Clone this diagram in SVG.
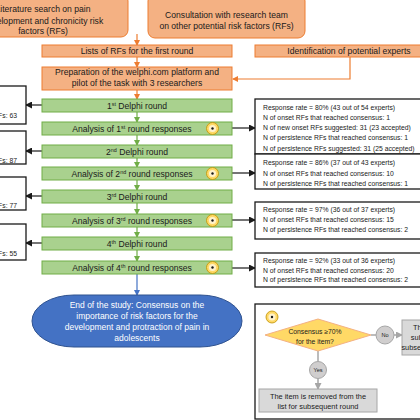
<svg xmlns="http://www.w3.org/2000/svg" width="420" height="420" viewBox="0 0 420 420">
<style>
text{font-family:"Liberation Sans",Arial,sans-serif;fill:#1a1a1a}
.m{font-size:8.6px;text-anchor:middle}
.s{font-size:6.8px}
.sup{font-size:5.4px}
.or{fill:#F4B183;stroke:#ED7D31;stroke-width:1}
.gr{fill:#A9D18E;stroke:#70AD47;stroke-width:1}
.bx{fill:#fff;stroke:#1a1a1a;stroke-width:1.3}
.gy{fill:#D9D9D9;stroke:#A6A6A6;stroke-width:1}
.gc{fill:#D0CECE;stroke:#A6A6A6;stroke-width:1}
.w{fill:#fff;font-size:8.5px;text-anchor:middle}
.l{font-size:7.4px;text-anchor:middle}
.t{font-size:5.6px;text-anchor:middle}
.ao{stroke:#ED7D31;stroke-width:1.2;fill:none;marker-end:url(#mo)}
.ag{stroke:#70AD47;stroke-width:1.2;fill:none;marker-end:url(#mg)}
.ak{stroke:#1a1a1a;stroke-width:1.2;fill:none;marker-end:url(#mk)}
.ab{stroke:#4472C4;stroke-width:1.2;fill:none;marker-end:url(#mb)}
.aa{stroke:#A6A6A6;stroke-width:1.5;fill:none}
.aam{stroke:#A6A6A6;stroke-width:1.5;fill:none;marker-end:url(#ma)}
</style>
<defs>
<marker id="mo" markerUnits="userSpaceOnUse" markerWidth="6" markerHeight="6" refX="5" refY="3" orient="auto"><path d="M0,0 L6,3 L0,6 Z" fill="#ED7D31"/></marker>
<marker id="mg" markerUnits="userSpaceOnUse" markerWidth="6" markerHeight="6" refX="5" refY="3" orient="auto"><path d="M0,0 L6,3 L0,6 Z" fill="#70AD47"/></marker>
<marker id="mk" markerUnits="userSpaceOnUse" markerWidth="7" markerHeight="7" refX="6" refY="3.5" orient="auto"><path d="M0,0 L7,3.5 L0,7 Z" fill="#1a1a1a"/></marker>
<marker id="mb" markerUnits="userSpaceOnUse" markerWidth="6" markerHeight="6" refX="5" refY="3" orient="auto"><path d="M0,0 L6,3 L0,6 Z" fill="#4472C4"/></marker>
<marker id="ma" markerUnits="userSpaceOnUse" markerWidth="7" markerHeight="7" refX="6" refY="3.5" orient="auto"><path d="M0,0 L7,3.5 L0,7 Z" fill="#A6A6A6"/></marker>
<g id="icon"><circle r="6" fill="#FFD966" stroke="#BF9000" stroke-width="0.8"/><circle r="3.6" fill="#FFF2CC"/><circle r="1.2" fill="#1a1a1a"/></g>
</defs>
<rect width="420" height="420" fill="#fff"/>

<g id="connectors">
<path class="ao" d="M137,34 V45"/>
<path class="ao" d="M137,57 V67"/>
<path class="ao" d="M137,90 V99"/>
<path class="ao" d="M350,57 V79 H233"/>
<path class="ag" d="M137,112 V122"/>
<path class="ag" d="M137,135 V145"/>
<path class="ag" d="M137,158 V167"/>
<path class="ag" d="M137,180 V190"/>
<path class="ag" d="M137,203 V214"/>
<path class="ag" d="M137,227 V237"/>
<path class="ag" d="M137,250 V261"/>
<path class="ab" d="M137,274 V295"/>
<path class="ak" d="M42,105 H26"/>
<path class="ak" d="M42,151 H26"/>
<path class="ak" d="M42,196 H26"/>
<path class="ak" d="M42,243 H26"/>
<path class="ak" d="M232,128 H255"/>
<path class="ak" d="M232,173 H255"/>
<path class="ak" d="M232,220 H255"/>
<path class="ak" d="M232,268 H255"/>
</g>

<g id="lit"><rect class="or" x="-45" y="-6" width="173" height="43" rx="7"/>
<text class="m" x="43" y="12">Literature search on pain</text>
<text class="m" x="43" y="23.5">development and chronicity risk</text>
<text class="m" x="43" y="34">factors (RFs)</text></g>
<g id="consult"><rect class="or" x="148" y="-6" width="157" height="44" rx="7"/>
<text class="m" x="226.5" y="18">Consultation with research team</text>
<text class="m" x="226.5" y="29">on other potential risk factors (RFs)</text></g>
<g id="lists"><rect class="or" x="42" y="45" width="190" height="12"/>
<text class="m" x="137" y="54">Lists of RFs for the first round</text></g>
<g id="ident"><rect class="or" x="255" y="45" width="190" height="12"/>
<text class="m" x="349" y="54">Identification of potential experts</text></g>
<g id="prep"><rect class="or" x="42" y="67" width="190" height="23"/>
<text class="m" x="137" y="75">Preparation of the welphi.com platform and</text>
<text class="m" x="137" y="86">pilot of the task with 3 researchers</text></g>

<g id="r1"><rect class="gr" x="42" y="99" width="190" height="13"/>
<text class="m" x="137" y="108.5">1<tspan class="sup" dy="-3">st</tspan><tspan dy="3"> Delphi round</tspan></text></g>
<g id="a1"><rect class="gr" x="42" y="122" width="190" height="13"/>
<text class="m" x="132" y="131.5">Analysis of 1<tspan class="sup" dy="-3">st</tspan><tspan dy="3"> round responses</tspan></text>
<use href="#icon" x="212.5" y="128.5"/></g>
<g id="r2"><rect class="gr" x="42" y="145" width="190" height="13"/>
<text class="m" x="137" y="154.5">2<tspan class="sup" dy="-3">nd</tspan><tspan dy="3"> Delphi round</tspan></text></g>
<g id="a2"><rect class="gr" x="42" y="167" width="190" height="13"/>
<text class="m" x="132" y="176.5">Analysis of 2<tspan class="sup" dy="-3">nd</tspan><tspan dy="3"> round responses</tspan></text>
<use href="#icon" x="212.5" y="173.5"/></g>
<g id="r3"><rect class="gr" x="42" y="190" width="190" height="13"/>
<text class="m" x="137" y="199.5">3<tspan class="sup" dy="-3">rd</tspan><tspan dy="3"> Delphi round</tspan></text></g>
<g id="a3"><rect class="gr" x="42" y="214" width="190" height="13"/>
<text class="m" x="132" y="223.5">Analysis of 3<tspan class="sup" dy="-3">rd</tspan><tspan dy="3"> round responses</tspan></text>
<use href="#icon" x="212.5" y="220.5"/></g>
<g id="r4"><rect class="gr" x="42" y="237" width="190" height="13"/>
<text class="m" x="137" y="246.5">4<tspan class="sup" dy="-3">th</tspan><tspan dy="3"> Delphi round</tspan></text></g>
<g id="a4"><rect class="gr" x="42" y="261" width="190" height="13"/>
<text class="m" x="132" y="270.5">Analysis of 4<tspan class="sup" dy="-3">th</tspan><tspan dy="3"> round responses</tspan></text>
<use href="#icon" x="212.5" y="267.5"/></g>

<g id="end"><rect x="32" y="295" width="210" height="52" rx="42" ry="26" fill="#4472C4" stroke="#2F528F" stroke-width="1"/>
<text class="w" x="137" y="308">End of the study: Consensus on the</text>
<text class="w" x="137" y="319">importance of risk factors for the</text>
<text class="w" x="137" y="330">development and protraction of pain in</text>
<text class="w" x="137" y="341">adolescents</text></g>

<g id="left1"><rect class="bx" x="-10" y="86" width="36" height="38"/><text class="s" x="17" y="118" text-anchor="end">Fs: 63</text></g>
<g id="left2"><rect class="bx" x="-10" y="131" width="36" height="33"/><text class="s" x="17" y="162.5" text-anchor="end">Fs: 87</text></g>
<g id="left3"><rect class="bx" x="-10" y="177" width="36" height="33"/><text class="s" x="17" y="207.5" text-anchor="end">Fs: 77</text></g>
<g id="left4"><rect class="bx" x="-10" y="224" width="36" height="36"/><text class="s" x="17" y="255.5" text-anchor="end">Fs: 55</text></g>

<g id="res1"><rect class="bx" x="255" y="99" width="180" height="55"/>
<text class="s" x="263" y="109.5">Response rate = 80% (43 out of 54 experts)</text>
<text class="s" x="263" y="119.8">N of onset RFs that reached consensus: 1</text>
<text class="s" x="263" y="130.1">N of new onset RFs suggested: 31 (23 accepted)</text>
<text class="s" x="263" y="140.4">N of persistence RFs that reached consensus: 1</text>
<text class="s" x="263" y="150.7">N of persistence RFs suggested: 31 (25 accepted)</text></g>
<g id="res2"><rect class="bx" x="255" y="154" width="180" height="35"/>
<text class="s" x="263" y="165">Response rate = 86% (37 out of 43 experts)</text>
<text class="s" x="263" y="175.5">N of onset RFs that reached consensus: 10</text>
<text class="s" x="263" y="186">N of persistence RFs that reached consensus: 1</text></g>
<g id="res3"><rect class="bx" x="255" y="202" width="180" height="37"/>
<text class="s" x="263" y="211.5">Response rate = 97% (36 out of 37 experts)</text>
<text class="s" x="263" y="221.8">N of onset RFs that reached consensus: 15</text>
<text class="s" x="263" y="232.1">N of persistence RFs that reached consensus: 2</text></g>
<g id="res4"><rect class="bx" x="255" y="253" width="180" height="34"/>
<text class="s" x="263" y="262.5">Response rate = 92% (33 out of 36 experts)</text>
<text class="s" x="263" y="272.5">N of onset RFs that reached consensus: 20</text>
<text class="s" x="263" y="282">N of persistence RFs that reached consensus: 2</text></g>

<g id="legend"><rect class="bx" x="255" y="304" width="180" height="115" stroke-width="1.5"/>
<use href="#icon" x="272" y="317"/>
<path class="aa" d="M371,335 H376"/>
<path class="aam" d="M394,335 H402"/>
<path class="aa" d="M318,351 V361.5"/>
<path class="aam" d="M318,378.5 V389"/>
<g id="decision"><polygon points="265,335 318,319 371,335 318,351" fill="#FFD966" stroke="#F4B183" stroke-width="1"/>
<text class="s" x="315" y="333.5" text-anchor="middle">Consensus ≥70%</text>
<text class="s" x="315" y="343.5" text-anchor="middle">for the item?</text></g>
<g id="no"><circle class="gc" cx="385" cy="335" r="9"/><text class="t" x="385" y="337">No</text></g>
<g id="yes"><circle class="gc" cx="318" cy="370" r="8.5"/><text class="t" x="318" y="372">Yes</text></g>
<g id="keep"><rect class="gy" x="402" y="320" width="60" height="35"/>
<text class="l" x="431" y="330">The item is</text>
<text class="l" x="431" y="340">submitted to</text>
<text class="l" x="431" y="350">subsequent round</text></g>
<g id="removed"><rect class="gy" x="259" y="389" width="118" height="23"/>
<text class="l" x="318" y="398.5">The item is removed from the</text>
<text class="l" x="318" y="408.5">list for subsequent round</text></g>
</g>
</svg>
